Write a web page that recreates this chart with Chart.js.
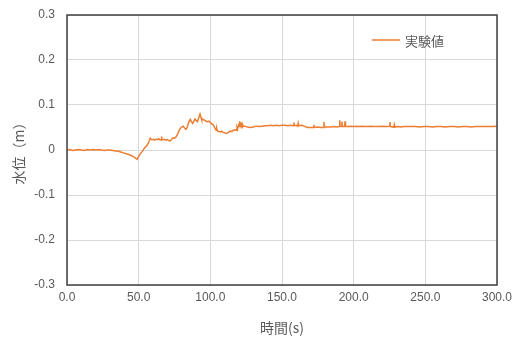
<!DOCTYPE html>
<html>
<head>
<meta charset="utf-8">
<script src="https://cdn.jsdelivr.net/npm/chart.js@4/dist/chart.umd.min.js"></script>
<style>
  html, body { margin: 0; padding: 0; background: #ffffff; }
  #wrap { width: 516px; height: 338px; }
</style>
</head>
<body>
<div id="wrap"><canvas id="c" width="516" height="338"></canvas></div>
<script>
// Measured water level (m) against time (s)
const seriesName = '実験値';
const times = [
  0, 2, 4, 6, 8, 10, 12, 14, 16, 18, 20, 22, 24, 26, 28, 30, 32,
  34, 36, 38, 40, 42, 44, 46, 47, 48, 48.8, 49.5, 50.5, 51.5, 52.5, 53.5, 54.5, 55.5, 56.5, 57.3,
  58, 59, 60, 61, 62, 63, 64, 65, 65.7, 66, 66.3, 67, 68, 69, 70, 71, 72, 73, 74, 75, 76, 77, 78,
  79, 80, 81, 82, 83, 83.8, 84.5, 85.3, 86, 86.8, 87.7, 88.5, 89.3, 90, 91, 92, 92.8, 93.5,
  94, 95, 96, 97, 98, 99, 100, 101, 102, 103, 104, 104.5, 105, 106, 107, 108, 109, 110,
  111, 112, 113, 114, 115, 116, 117, 118, 118.6, 119, 119.6, 120, 120.5, 120.8, 121.3, 121.6, 122.2, 122.5, 123,
  124, 125, 126, 128, 130, 132, 134, 136, 138, 140, 142, 144, 146, 148, 150, 152, 154, 156,
  158, 158.3, 158.6, 160, 161, 161.3, 161.6, 164, 166, 168, 170, 172, 172.3, 172.6, 175, 177, 179, 179.3, 179.6,
  182, 184, 186, 188, 190, 190.3, 190.6, 191.5, 191.8, 192.1, 193.7, 194, 194.3, 196, 198, 200,
  202, 204, 206, 208, 210, 212, 214, 216, 218, 220, 222, 224, 225, 225.3, 225.6, 228, 228.3, 228.6, 231, 233, 235, 237,
  240, 243, 246, 249, 252, 255, 258, 261, 264, 267, 270, 273, 276, 279, 282, 285, 288, 291, 294, 297, 300
];
const levels = [
  0.000, 0.001, -0.001, 0.000, 0.001, 0.000, -0.001, 0.001, 0.000, 0.001, 0.000, 0.001, 0.000, -0.001, 0.000, 0.000, -0.001,
  -0.002, -0.003, -0.005, -0.007, -0.009, -0.011, -0.014, -0.016, -0.019, -0.021, -0.017, -0.012, -0.007, -0.003, 0.002, 0.006, 0.009, 0.014, 0.020,
  0.026, 0.023, 0.024, 0.022, 0.024, 0.023, 0.025, 0.022, 0.022, 0.030, 0.023, 0.023, 0.024, 0.022, 0.023, 0.021, 0.020, 0.024, 0.027, 0.026, 0.029, 0.034, 0.042,
  0.048, 0.051, 0.053, 0.049, 0.046, 0.050, 0.058, 0.064, 0.068, 0.063, 0.059, 0.064, 0.069, 0.066, 0.063, 0.072, 0.080, 0.072,
  0.067, 0.068, 0.066, 0.064, 0.063, 0.064, 0.061, 0.058, 0.056, 0.050, 0.044, 0.048, 0.042, 0.041, 0.040, 0.042, 0.039, 0.038,
  0.037, 0.038, 0.040, 0.042, 0.041, 0.044, 0.045, 0.044, 0.050, 0.046, 0.055, 0.052, 0.064, 0.054, 0.061, 0.053, 0.058, 0.051, 0.053,
  0.053, 0.052, 0.051, 0.050, 0.051, 0.053, 0.052, 0.053, 0.054, 0.054, 0.055, 0.054, 0.055, 0.054, 0.055, 0.055, 0.054, 0.055,
  0.054, 0.061, 0.054, 0.055, 0.053, 0.059, 0.054, 0.055, 0.052, 0.050, 0.050, 0.050, 0.056, 0.050, 0.051, 0.050, 0.050, 0.062, 0.051,
  0.051, 0.051, 0.052, 0.051, 0.052, 0.066, 0.052, 0.052, 0.063, 0.052, 0.052, 0.064, 0.052, 0.052, 0.053, 0.052,
  0.053, 0.052, 0.053, 0.052, 0.052, 0.053, 0.052, 0.052, 0.052, 0.053, 0.052, 0.052, 0.053, 0.062, 0.052, 0.051, 0.056, 0.051, 0.052, 0.051, 0.052, 0.052,
  0.052, 0.052, 0.051, 0.052, 0.052, 0.051, 0.052, 0.052, 0.051, 0.052, 0.052, 0.051, 0.052, 0.052, 0.051, 0.052, 0.052, 0.052, 0.052, 0.052, 0.053
];
const xTicks = [0, 50, 100, 150, 200, 250, 300];
const yTicks = [-0.3, -0.2, -0.1, 0, 0.1, 0.2, 0.3];

const lineColor = '#ED7D31';
const textColor = '#595959';
const jpFont = '"Noto Sans CJK JP", "Noto Sans", sans-serif';
const numFont = '"Liberation Sans", "DejaVu Sans", sans-serif';

// Dark frame round the plot area
const frame = {
  id: 'frame',
  afterDatasetsDraw(chart) {
    const a = chart.chartArea, ctx = chart.ctx;
    ctx.save();
    ctx.strokeStyle = '#404040';
    ctx.lineWidth = 1.5;
    ctx.strokeRect(a.left, a.top, a.right - a.left, a.bottom - a.top);
    ctx.restore();
  }
};

// Legend entry inside the plot area, top right
const insideLegend = {
  id: 'insideLegend',
  afterDraw(chart) {
    const a = chart.chartArea, ctx = chart.ctx;
    const ds = chart.data.datasets[0];
    const x0 = a.left + 305, y0 = a.top + 25;
    ctx.save();
    ctx.strokeStyle = ds.borderColor;
    ctx.lineWidth = 1.5;
    ctx.beginPath();
    ctx.moveTo(x0, y0);
    ctx.lineTo(x0 + 28, y0);
    ctx.stroke();
    ctx.fillStyle = textColor;
    ctx.font = '13px ' + jpFont;
    ctx.textBaseline = 'middle';
    ctx.textAlign = 'left';
    ctx.fillText(ds.label, x0 + 33, y0 + 1);
    ctx.restore();
  }
};

new Chart(document.getElementById('c'), {
  type: 'line',
  data: {
    datasets: [{
      label: seriesName,
      data: times.map((t, i) => ({ x: t, y: levels[i] })),
      borderColor: lineColor,
      backgroundColor: lineColor,
      borderWidth: 1.5,
      pointRadius: 0,
      tension: 0,
      fill: false
    }]
  },
  options: {
    responsive: false,
    animation: false,
    layout: { padding: { top: 15, right: 19, left: 0, bottom: 0 } },
    plugins: { legend: { display: false }, tooltip: { enabled: false } },
    scales: {
      x: {
        type: 'linear',
        min: 0, max: 300,
        afterBuildTicks: s => { s.ticks = xTicks.map(v => ({ value: v })); },
        afterFit: s => { s.height = 53; s.paddingLeft = 0; s.paddingRight = 0; },
        grid: { color: '#d9d9d9', lineWidth: 1, drawTicks: false },
        border: { display: false },
        ticks: {
          padding: 5,
          color: textColor,
          font: { family: numFont, size: 12 },
          maxRotation: 0,
          callback: v => Number(v).toFixed(1)
        },
        title: {
          display: true,
          text: '時間(s)',
          color: textColor,
          font: { family: jpFont, size: 14 },
          padding: { top: 0, bottom: 2 }
        }
      },
      y: {
        min: -0.3, max: 0.3,
        afterBuildTicks: s => { s.ticks = yTicks.map(v => ({ value: v })); },
        afterFit: s => { s.width = 67; s.paddingTop = 0; s.paddingBottom = 0; },
        grid: { color: '#d9d9d9', lineWidth: 1, drawTicks: false },
        border: { display: false },
        ticks: {
          padding: 12,
          color: textColor,
          font: { family: numFont, size: 12 },
          callback: v => (Math.abs(v) < 1e-9 ? '0' : Number(v).toFixed(1))
        },
        title: {
          display: true,
          text: '水位（m）',
          color: textColor,
          font: { family: jpFont, size: 14 },
          padding: { top: 10, bottom: 0 }
        }
      }
    }
  },
  plugins: [frame, insideLegend]
});
</script>
</body>
</html>
